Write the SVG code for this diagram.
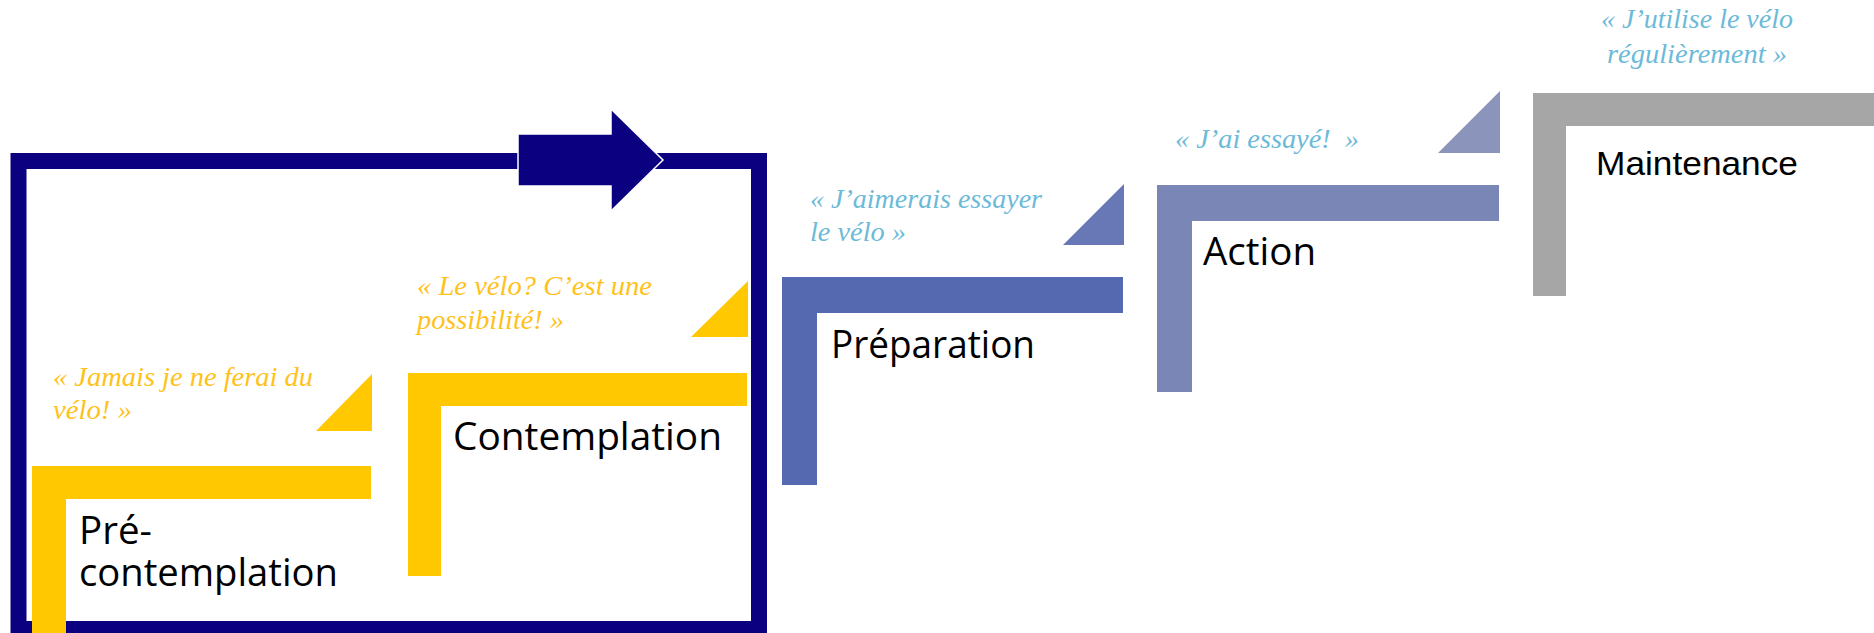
<svg xmlns="http://www.w3.org/2000/svg" width="1874" height="633" viewBox="0 0 1874 633">
<style>
.lbl{font-family:"Open Sans","Noto Sans",sans-serif;font-size:38.5px;fill:#000}
.lblm{font-family:"Liberation Sans",Arial,sans-serif;font-size:33px;fill:#000}
.q{font-family:"Liberation Serif","Times New Roman",serif;font-style:italic;font-size:28px}
.qy{fill:#FFC21A}
.qb{fill:#6CBAD9}
.yel{fill:#FFC800}
</style>
<rect width="1874" height="633" fill="#fff"/>
<g id="frame">
<rect x="18.5" y="161" width="740.5" height="468" fill="none" stroke="#0A0080" stroke-width="16"/>
</g>
<g id="precontemplation">
<path class="yel" d="M32 466H371V499H66V633H32Z"/>
<polygon class="yel" points="372,374 372,431 316,431"/>
<text class="q qy" x="53" y="386" textLength="260" lengthAdjust="spacingAndGlyphs">« Jamais je ne ferai du</text>
<text class="q qy" x="53" y="419" textLength="79" lengthAdjust="spacingAndGlyphs">vélo! »</text>
<text class="lbl" x="79" y="544">Pré-</text>
<text class="lbl" x="79" y="586" textLength="259" lengthAdjust="spacingAndGlyphs">contemplation</text>
</g>
<g id="contemplation">
<path class="yel" d="M408 373H747V406H441V576H408Z"/>
<polygon class="yel" points="748,281 748,337 691,337"/>
<text class="q qy" x="417" y="295" textLength="235" lengthAdjust="spacingAndGlyphs">« Le vélo? C’est une</text>
<text class="q qy" x="417" y="329" textLength="147" lengthAdjust="spacingAndGlyphs">possibilité! »</text>
<text class="lbl" x="453" y="449.5" textLength="269" lengthAdjust="spacingAndGlyphs">Contemplation</text>
</g>
<g id="preparation">
<path fill="#5469B0" d="M782 277H1123V313H817V485H782Z"/>
<polygon fill="#6877B6" points="1124,184 1124,245 1063,245"/>
<text class="q qb" x="810" y="208" textLength="232" lengthAdjust="spacingAndGlyphs">« J’aimerais essayer</text>
<text class="q qb" x="810" y="241" textLength="96" lengthAdjust="spacingAndGlyphs">le vélo »</text>
<text class="lbl" x="831" y="358" textLength="204" lengthAdjust="spacingAndGlyphs">Préparation</text>
</g>
<g id="action">
<path fill="#7986B6" d="M1157 185H1499V221H1192V392H1157Z"/>
<polygon fill="#8B95BC" points="1500,91 1500,153 1438,153"/>
<text class="q qb" x="1175" y="148" textLength="184" lengthAdjust="spacingAndGlyphs">« J’ai essayé!&#160; »</text>
<text class="lbl" x="1203" y="265">Action</text>
</g>
<g id="maintenance">
<path fill="#A6A6A6" d="M1533 93H1874V126H1566V296H1533Z"/>
<text class="q qb" x="1601" y="28" textLength="192" lengthAdjust="spacingAndGlyphs">« J’utilise le vélo</text>
<text class="q qb" x="1607" y="63" textLength="180" lengthAdjust="spacingAndGlyphs">régulièrement »</text>
<text class="lblm" x="1596" y="175" textLength="202" lengthAdjust="spacingAndGlyphs">Maintenance</text>
</g>
<g id="connectors">
<polygon points="518,134 611,134 611,109 663,160 611,211 611,186 518,186" fill="#0A0080" stroke="#fff" stroke-width="1.5"/>
</g>
</svg>
